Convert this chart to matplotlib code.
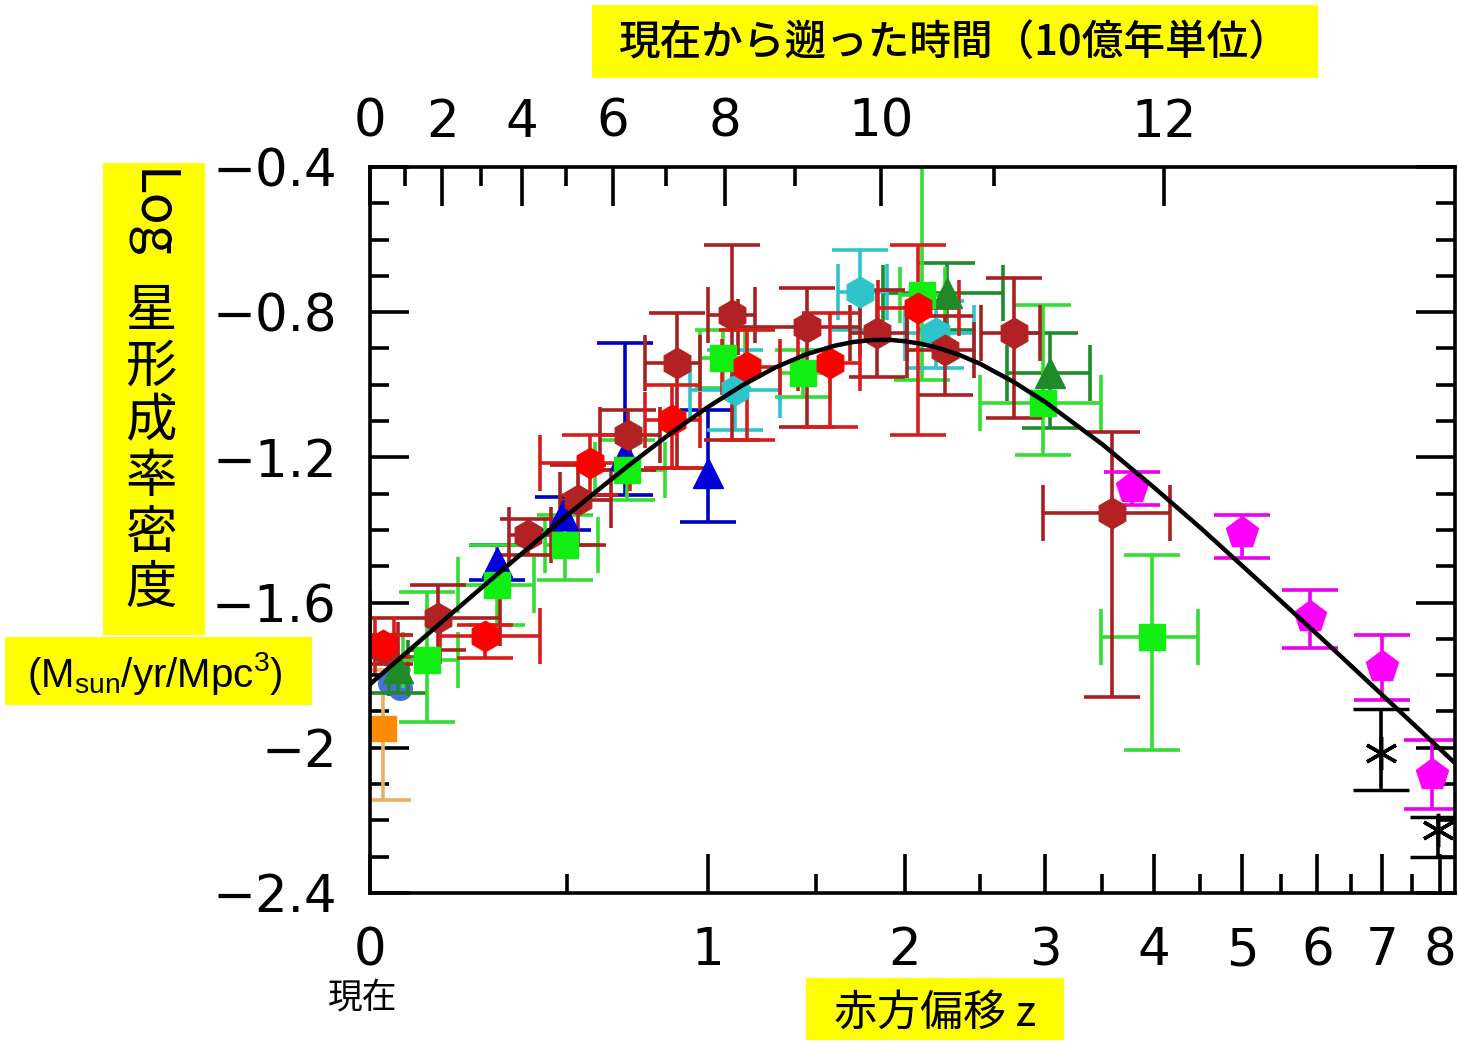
import numpy as np
import matplotlib
matplotlib.use('Agg')
import matplotlib.pyplot as plt
from matplotlib.patches import Rectangle

plt.rcParams['mathtext.fontset'] = 'custom'
plt.rcParams['mathtext.rm'] = 'Liberation Sans'
plt.rcParams['mathtext.it'] = 'Liberation Sans'
JP = ['Noto Sans CJK JP', 'DejaVu Sans']

# --- データ (赤方偏移 z, log 星形成率密度, 誤差棒の端) ---
# 赤 (明るい赤の六角形)
red_z = [0.027, 0.266, 0.571, 0.859, 1.169, 1.572, 2.08]
red_y = [-1.717, -1.692, -1.215, -1.097, -0.951, -0.940, -0.788]
red_zlo = [0.01, 0.154, 0.418, 0.759, 1.06, 1.41, 1.84]
red_zhi = [0.05, 0.418, 0.706, 0.969, 1.32, 1.735, 2.35]
red_top = [-1.69, -1.662, -1.138, -1.0, -0.849, -0.802, -0.615]
red_bot = [-1.75, -1.753, -1.304, -1.229, -1.152, -1.116, -1.138]

# 茶 (暗い赤の六角形)
brn_z = [0.031, 0.150, 0.383, 0.533, 0.698, 0.878, 1.103, 1.455, 1.835, 2.26, 2.75, 3.59]
brn_y = [-1.731, -1.642, -1.414, -1.317, -1.138, -0.940, -0.808, -0.841, -0.857, -0.904, -0.857, -1.353]
brn_zlo = [0.0, 0.0, 0.33, 0.477, 0.604, 0.759, 1.0, 1.13, 1.678, 2.01, 2.51, 2.98]
brn_zhi = [0.06, 0.306, 0.45, 0.64, 0.814, 0.969, 1.206, 1.735, 2.01, 2.46, 2.96, 4.17]
brn_top = [-1.69, -1.551, -1.37, -1.221, -1.069, -0.802, -0.615, -0.733, -0.739, -0.81, -0.706, -1.130]
brn_bot = [-1.77, -1.731, -1.47, -1.441, -1.235, -1.229, -1.152, -1.116, -0.979, -1.028, -1.091, -1.860]

# 明るい緑 (四角)
grn_z = [0.124, 0.298, 0.493, 0.695, 1.065, 1.434, 2.11, 2.98, 3.98]
grn_y = [-1.758, -1.551, -1.441, -1.235, -0.926, -0.967, -0.753, -1.050, -1.695]
grn_zlo = [0.07, 0.198, 0.432, 0.587, 0.97, 1.32, 1.97, 2.50, 3.49]
grn_zhi = [0.198, 0.40, 0.597, 0.832, 1.16, 1.57, 2.26, 3.49, 4.48]
grn_top = [-1.571, -1.441, -1.359, -1.152, -0.85, -0.904, -0.35, -0.780, -1.469]
grn_bot = [-1.929, -1.662, -1.538, -1.317, -1.01, -1.034, -0.987, -1.193, -2.006]

# 濃い緑 (三角)
dgr_z = [0.06, 2.27, 3.04]
dgr_y = [-1.78, -0.747, -0.967]
dgr_zlo = [0.04, 1.87, 2.70]
dgr_zhi = [0.08, 2.67, 3.39]
dgr_top = [-1.75, -0.664, -0.857]
dgr_bot = [-1.85, -0.849, -1.119]

# シアン (六角形)
cyn_z = [1.116, 1.735, 2.20]
cyn_y = [-1.014, -0.744, -0.857]
cyn_zlo = [0.928, 1.615, 2.0]
cyn_zhi = [1.323, 1.893, 2.46]
cyn_top = [-0.904, -0.629, -0.77]
cyn_bot = [-1.125, -0.849, -0.954]

# 青 (三角)
blu_z = [0.298, 0.486, 0.688, 1.0]
blu_y = [-1.488, -1.359, -1.193, -1.243]
blu_top = [-1.441, -1.31, -0.885, -1.069]
blu_bot = [-1.538, -1.40, -1.304, -1.378]

# マゼンタ (五角形)
mag_z = [3.78, 5.0, 5.9, 7.0, 7.85]
mag_y = [-1.284, -1.408, -1.640, -1.777, -2.075]
mag_top = [-1.240, -1.359, -1.565, -1.689, -1.979]
mag_bot = [-1.331, -1.477, -1.725, -1.868, -2.17]

# 黒 (アスタリスク)
blk_z = [6.97, 7.96]
blk_y = [-2.014, -2.226]
blk_top = [-1.893, -2.19]
blk_bot = [-2.116, -2.30]

# オレンジ (四角)
org_z = [0.027]
org_y = [-1.946]
org_top = [-1.786]
org_bot = [-2.144]

# 青灰 (丸)
stb_z = [0.042, 0.064]
stb_y = [-1.821, -1.835]

# 当てはめ曲線
curve_z = [0, 0.05, 0.1, 0.15, 0.2, 0.3, 0.4, 0.5, 0.6, 0.7, 0.85, 1.0, 1.15, 1.3,
           1.45, 1.6, 1.7, 1.8, 1.9, 2.0, 2.1, 2.2, 2.35, 2.5, 2.75, 3.0, 3.5, 4.0,
           4.5, 5.0, 5.5, 6.0, 6.5, 7.0, 7.5, 8.0, 8.3]
curve_y = [-1.825, -1.768, -1.714, -1.662, -1.613, -1.521, -1.437, -1.359, -1.288,
           -1.223, -1.136, -1.062, -1.001, -0.952, -0.916, -0.892, -0.882, -0.877,
           -0.876, -0.880, -0.887, -0.897, -0.917, -0.942, -0.992, -1.047, -1.164,
           -1.282, -1.393, -1.499, -1.597, -1.688, -1.774, -1.855, -1.931, -2.003,
           -2.044]

# 軸目盛
z_major = [0, 1, 2, 3, 4, 5, 6, 7, 8]
z_minor = [0.5, 1.5, 2.5, 3.5, 4.5, 5.5, 6.5, 7.5]
t_major = [0, 2, 4, 6, 8, 10, 12]
t_minor = [1, 3, 5, 7, 9, 11]
y_major = [-0.4, -0.8, -1.2, -1.6, -2.0, -2.4]
y_labels = ['\u22120.4', '\u22120.8', '\u22121.2', '\u22121.6', '\u22122', '\u22122.4']


def fwd(z):
    return np.log10(1 + np.asarray(z, dtype=float))


def inv(x):
    return 10 ** np.asarray(x, dtype=float) - 1


# 宇宙論 (H0=70, Om=0.3, OL=0.7) から遡った時間 -> z
zz = np.linspace(0, 30, 30001)
f = 1 / ((1 + zz) * np.sqrt(0.3 * (1 + zz) ** 3 + 0.7))
tl = 977.8 / 70 * np.concatenate([[0], np.cumsum(0.5 * (f[1:] + f[:-1]) * np.diff(zz))])


def z_of_t(t):
    return np.interp(t, tl, zz)


fig = plt.figure(figsize=(14.58, 10.41), dpi=100)
ax = fig.add_axes([0.2538, 0.1422, 0.7443, 0.6974])
ax.set_xscale('function', functions=(fwd, inv))
XMAX = 8.29
ax.set_xlim(0, XMAX)
ax.set_ylim(-2.4, -0.4)

ekw = dict(linestyle='none', elinewidth=2.6, capthick=2.6, capsize=20)


def draw(z, y, top, bot, mcol, ecol, marker, ms, zlo=None, zhi=None):
    z = np.array(z)
    y = np.array(y)
    yerr = [y - np.array(bot), np.array(top) - y]
    xerr = None
    if zlo is not None:
        xerr = [z - np.array(zlo), np.array(zhi) - z]
    ax.errorbar(z, y, xerr=xerr, yerr=yerr, marker=marker, ms=ms, color=mcol,
                mfc=mcol, mec=mcol, ecolor=ecol, **ekw)


draw(org_z, org_y, org_top, org_bot, '#ff8c00', '#e8b060', 's', 18)
ax.plot(stb_z, stb_y, 'o', color='#4a6fd8', ms=17, linestyle='none')
draw(dgr_z, dgr_y, dgr_top, dgr_bot, '#1f8a2a', '#1f8a2a', '^', 21, dgr_zlo, dgr_zhi)
draw(blu_z, blu_y, blu_top, blu_bot, '#0000dd', '#0000c0', '^', 21)
draw(grn_z, grn_y, grn_top, grn_bot, '#11ee11', '#33dd33', 's', 19, grn_zlo, grn_zhi)
draw(cyn_z, cyn_y, cyn_top, cyn_bot, '#2ec4cc', '#2ec4cc', 'h', 22, cyn_zlo, cyn_zhi)
draw(brn_z, brn_y, brn_top, brn_bot, '#b22222', '#a82020', 'h', 22, brn_zlo, brn_zhi)
draw(red_z, red_y, red_top, red_bot, '#ff0000', '#d81c1c', 'h', 22, red_zlo, red_zhi)
draw(mag_z, mag_y, mag_top, mag_bot, '#ff00ff', '#ee00ee', 'p', 24)
ax.errorbar(blk_z, blk_y, yerr=[np.array(blk_y) - np.array(blk_bot),
                                np.array(blk_top) - np.array(blk_y)],
            marker=(6, 2, 0), ms=24, color='black', mew=2.5, linestyle='none',
            elinewidth=2.6, capthick=2.6, capsize=20)

ax.plot(curve_z, curve_y, color='black', lw=3.2, zorder=10)

# 目盛
ax.set_xticks(z_major)
ax.set_xticklabels([str(v) for v in z_major])
ax.set_xticks(z_minor, minor=True)
ax.set_yticks(y_major)
ax.set_yticklabels(y_labels)
ax.set_yticks(np.arange(-2.4, -0.39, 0.1), minor=True)
ax.tick_params(which='major', direction='in', length=28, width=2.6,
               labelsize=37, right=True, top=False, pad=24)
ax.tick_params(which='minor', direction='in', length=14, width=2.6,
               right=True, top=False)
for s in ax.spines.values():
    s.set_linewidth(2.6)

ax2 = ax.twiny()
ax2.set_xscale('function', functions=(fwd, inv))
ax2.set_xlim(0, XMAX)
ax2.set_xticks(z_of_t(t_major))
ax2.set_xticklabels([str(t) for t in t_major])
ax2.set_xticks(z_of_t(t_minor), minor=True)
ax2.tick_params(which='major', direction='in', length=28, width=2.6,
                labelsize=37, pad=14)
ax2.tick_params(which='minor', direction='in', length=14, width=2.6)

# ラベル (黄色の枠)
yellow = '#ffff00'
for (x0, y0, w, h) in [(0.406, 0.925, 0.498, 0.0701),
                       (0.0706, 0.390, 0.070, 0.4534),
                       (0.0034, 0.3228, 0.2106, 0.0653),
                       (0.5528, 0.001, 0.177, 0.0596)]:
    fig.add_artist(Rectangle((x0, y0), w, h, transform=fig.transFigure,
                             facecolor=yellow, edgecolor='none', zorder=0))

fig.text(0.655, 0.9595, '現在から遡った時間（10億年単位）', family=JP, fontsize=30,
         fontweight='medium', ha='center', va='center')
fig.text(0.1035, 0.794, 'Log', family=JP, fontsize=38, rotation=-90,
         ha='center', va='center')
for i, ch in enumerate('星形成率密度'):
    fig.text(0.1035, 1 - (311 + 55.5 * i) / 1041, ch, family=JP, fontsize=37,
             ha='center', va='center')
fig.text(0.106, 0.3535, r'(M$_{\rm sun}$/yr/Mpc$^3$)', family=['Liberation Sans'],
         fontsize=29, ha='center', va='center')
fig.text(0.249, 1 - 998 / 1041, '現在', family=JP, fontsize=25, ha='center', va='center')
fig.text(0.641, 1 - 1014 / 1041, '赤方偏移 z', family=JP, fontsize=31,
         ha='center', va='center')

fig.savefig('out.png', dpi=100)
